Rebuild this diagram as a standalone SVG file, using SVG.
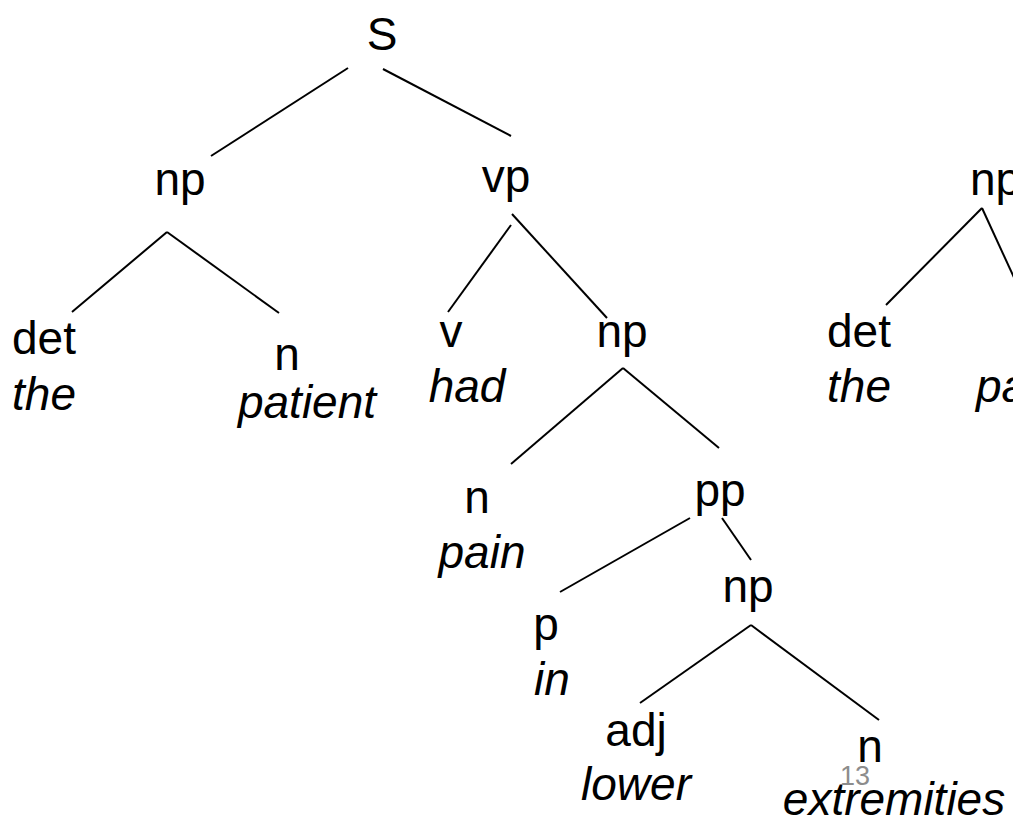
<svg xmlns="http://www.w3.org/2000/svg" width="1013" height="820" viewBox="0 0 1013 820">
  <style>
    .lbl { font-family: "Liberation Sans", Arial, sans-serif; font-size: 46px; fill: #000; text-anchor: middle; }
    .word { font-style: italic; }
    .edge { stroke: #000; stroke-width: 2; fill: none; }
    .pg { font-family: "Liberation Sans", Arial, sans-serif; font-size: 27px; fill: #8c8c8c; }
  </style>
  <rect width="1013" height="820" fill="#fff"/>

  <!-- tree edges -->
  <g id="connectors">
    <line class="edge" x1="348" y1="68" x2="211" y2="156"/>
    <line class="edge" x1="383" y1="69" x2="511" y2="136"/>
    <line class="edge" x1="167" y1="232" x2="72" y2="312"/>
    <line class="edge" x1="167" y1="232" x2="279" y2="313"/>
    <line class="edge" x1="511" y1="225" x2="448" y2="312"/>
    <line class="edge" x1="512" y1="214" x2="607" y2="318"/>
    <line class="edge" x1="623" y1="368" x2="511" y2="464"/>
    <line class="edge" x1="623" y1="368" x2="719" y2="448"/>
    <line class="edge" x1="690" y1="518" x2="560" y2="592"/>
    <line class="edge" x1="722" y1="518" x2="751" y2="560"/>
    <line class="edge" x1="751" y1="625" x2="640" y2="703"/>
    <line class="edge" x1="751" y1="625" x2="879" y2="720"/>
    <line class="edge" x1="982" y1="208" x2="886" y2="305"/>
    <line class="edge" x1="982" y1="208" x2="1022" y2="295"/>
  </g>

  <!-- left tree: the patient had pain in lower extremities -->
  <g id="node-s"><text class="lbl" x="382" y="50">S</text></g>
  <g id="node-np1"><text class="lbl" x="180" y="195">np</text></g>
  <g id="node-vp"><text class="lbl" x="506" y="192">vp</text></g>
  <g id="node-det1">
    <text class="lbl" x="44" y="354">det</text>
    <text class="lbl word" x="44" y="410">the</text>
  </g>
  <g id="node-n1">
    <text class="lbl" x="287" y="370">n</text>
    <text class="lbl word" x="307" y="418">patient</text>
  </g>
  <g id="node-v">
    <text class="lbl" x="451" y="347">v</text>
    <text class="lbl word" x="467" y="402">had</text>
  </g>
  <g id="node-np2"><text class="lbl" x="622" y="347">np</text></g>
  <g id="node-n2">
    <text class="lbl" x="477" y="513">n</text>
    <text class="lbl word" x="482" y="568">pain</text>
  </g>
  <g id="node-pp"><text class="lbl" x="720" y="506">pp</text></g>
  <g id="node-p">
    <text class="lbl" x="546" y="640">p</text>
    <text class="lbl word" x="552" y="695">in</text>
  </g>
  <g id="node-np3"><text class="lbl" x="748" y="602">np</text></g>
  <g id="node-adj">
    <text class="lbl" x="636" y="746">adj</text>
    <text class="lbl word" x="636" y="800">lower</text>
  </g>
  <g id="node-n3">
    <text class="lbl" x="870" y="762">n</text>
    <text class="lbl word" x="894" y="815">extremities</text>
  </g>

  <!-- right tree (runs off the edge) -->
  <g id="node-np4"><text class="lbl" x="970" y="195" style="text-anchor:start">np</text></g>
  <g id="node-det2">
    <text class="lbl" x="859" y="347">det</text>
    <text class="lbl word" x="859" y="402">the</text>
  </g>
  <g id="node-n4"><text class="lbl word" x="976" y="402" style="text-anchor:start">patient</text></g>

  <!-- slide number -->
  <g id="page-number"><text class="pg" x="855" y="785" text-anchor="middle">13</text></g>
</svg>
